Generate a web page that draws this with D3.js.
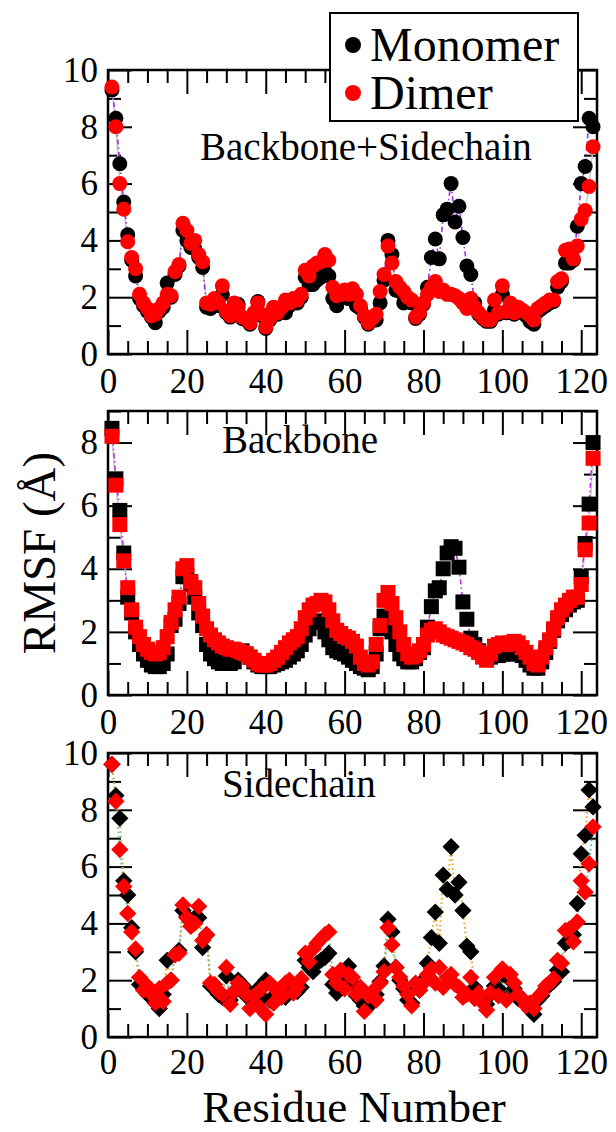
<!DOCTYPE html>
<html><head><meta charset="utf-8">
<script src="https://cdn.jsdelivr.net/npm/d3@7"></script>
<style>
html,body{margin:0;padding:0;background:#fff;}
svg{display:block;}
</style>
</head><body>
<svg id="chart" width="616" height="1132"></svg>
<script>
// ---------------- DATA ----------------
const residues = d3.range(1, 124);
const xTickLabels = [0, 20, 40, 60, 80, 100, 120];
const panelTitles = ["Backbone+Sidechain", "Backbone", "Sidechain"];
const yMaxes = [10, 9, 10];
const seriesNames = ["Monomer", "Dimer"];

const bsMonomer = [9.3,8.3,6.7,5.35,4.2,3.3,2.75,1.95,1.7,1.5,
1.3,1.1,1.5,1.65,2.5,2.0,2.8,3.1,4.35,4.0,
3.75,3.7,3.4,3.05,1.65,1.6,1.8,1.7,2.1,1.45,
1.3,1.7,1.75,1.25,1.2,1.05,1.4,1.85,1.35,0.9,
1.2,1.6,1.4,1.6,1.45,1.7,1.85,1.8,2.0,2.7,
2.45,2.45,2.6,2.7,2.9,2.75,1.95,1.7,2.0,2.1,
1.95,2.2,1.7,1.6,1.3,1.05,1.2,1.2,1.8,2.6,
4.0,3.5,2.25,2.2,1.8,1.9,1.8,1.25,1.4,1.75,
2.35,3.4,4.05,3.35,4.9,5.1,6.0,4.65,5.2,4.1,
3.1,2.8,1.8,1.4,1.25,1.15,1.15,1.55,1.4,2.1,
1.45,1.7,1.4,1.6,1.5,1.35,1.15,1.05,1.5,1.6,
1.7,1.8,1.85,2.35,2.55,3.2,3.2,3.3,4.5,6.0,
6.6,8.3,8.0];
const bsDimer = [9.4,8.0,6.0,5.1,3.95,3.4,3.0,2.1,1.8,1.6,
1.35,1.4,1.6,1.8,2.1,2.05,2.9,3.15,4.6,4.35,
3.9,4.0,3.5,3.25,1.8,1.75,1.95,1.8,2.4,1.5,
1.35,1.8,1.65,1.3,1.25,1.1,1.45,1.8,1.4,0.95,
1.25,1.65,1.45,1.65,1.9,1.8,1.95,1.9,2.1,2.95,
2.75,3.1,3.2,3.25,3.5,3.3,2.35,2.05,2.1,2.25,
2.1,2.3,2.1,1.7,1.35,1.1,1.25,1.4,2.2,2.8,
3.8,3.2,2.55,2.35,2.2,2.0,1.9,1.3,1.45,1.8,
2.1,2.35,2.55,2.2,2.25,2.1,2.1,2.05,1.95,1.8,
1.6,1.95,1.65,1.45,1.3,1.2,1.2,1.9,1.45,2.4,
1.5,1.8,1.45,1.65,1.55,1.45,1.35,1.2,1.6,1.7,
1.8,1.9,1.9,2.55,2.65,3.65,3.7,3.35,3.8,4.75,
5.05,5.9,7.3];
const bbMonomer = [8.45,6.85,5.85,4.5,3.1,2.6,2.0,1.6,1.3,1.1,
0.95,0.9,0.9,1.0,1.3,2.2,2.4,2.9,3.75,3.8,
3.5,3.1,2.6,2.2,1.6,1.3,1.15,1.05,1.0,1.0,
1.0,1.05,1.35,1.4,1.3,1.2,1.05,0.95,0.9,0.9,
0.9,0.95,1.0,1.05,1.1,1.2,1.3,1.4,1.6,1.9,
2.1,2.3,2.35,2.3,2.0,1.75,1.5,1.4,1.35,1.3,
1.2,1.1,1.0,0.9,0.85,0.8,0.9,1.3,2.1,2.5,
2.3,2.0,1.6,1.3,1.15,1.05,1.05,1.15,1.35,1.5,
2.15,2.8,3.3,3.4,4.0,4.5,4.7,4.65,4.05,2.95,
2.4,1.8,1.6,1.4,1.3,1.2,1.2,1.25,1.25,1.3,
1.3,1.3,1.35,1.35,1.25,1.1,0.95,0.85,0.85,1.05,
1.35,1.7,2.05,2.35,2.55,2.7,2.85,2.95,3.0,3.75,
4.8,6.05,8.0];
const bbDimer = [8.2,6.65,5.4,4.25,3.4,2.7,2.15,1.85,1.6,1.45,
1.35,1.3,1.35,1.5,1.85,2.3,2.7,3.1,4.0,4.1,
3.6,3.4,2.9,2.5,2.1,1.9,1.75,1.65,1.55,1.5,
1.45,1.45,1.4,1.35,1.3,1.2,1.1,1.0,0.95,0.95,
1.0,1.1,1.2,1.35,1.5,1.65,1.75,1.85,2.1,2.45,
2.7,2.85,2.9,3.0,2.95,2.7,2.35,2.05,1.95,1.85,
1.8,1.7,1.55,1.2,1.0,0.95,1.05,1.6,2.2,3.0,
3.25,2.9,2.45,2.0,1.6,1.3,1.2,1.25,1.4,1.6,
1.9,2.05,2.1,2.0,1.9,1.85,1.8,1.75,1.7,1.65,
1.6,1.5,1.45,1.35,1.2,1.1,1.3,1.55,1.6,1.65,
1.6,1.65,1.7,1.65,1.5,1.35,1.2,1.0,0.95,1.2,
1.5,1.75,2.1,2.45,2.7,2.85,3.0,3.1,3.1,3.5,
4.6,5.45,7.5];
const scMonomer = [9.6,8.5,7.7,5.5,5.0,3.85,3.0,1.85,1.7,1.5,
1.4,1.2,1.0,1.5,2.7,2.0,2.9,3.05,4.45,4.25,
4.05,4.2,4.2,3.15,3.6,1.8,1.7,1.5,1.4,2.15,
1.3,1.6,2.0,1.85,1.45,1.55,1.3,1.7,1.4,2.0,
1.3,1.2,1.5,1.45,1.4,1.7,1.8,1.6,1.75,2.7,
2.45,2.3,2.6,2.7,2.8,2.95,1.85,1.55,2.2,1.85,
2.5,1.9,1.45,1.3,1.1,1.3,1.2,1.5,1.95,2.5,
4.15,3.7,2.45,2.0,1.7,1.3,1.2,1.8,1.65,2.0,
2.6,3.5,4.4,3.3,5.7,5.2,6.7,5.0,5.45,4.45,
3.2,3.0,1.75,1.4,1.3,1.15,1.5,1.8,1.7,2.2,
1.35,2.0,1.7,1.35,1.3,1.2,0.95,0.8,1.3,1.45,
1.7,1.85,1.95,2.35,2.3,3.3,3.4,3.6,4.7,6.45,
7.1,8.7,8.1];
const scDimer = [9.6,8.3,6.6,5.3,4.35,3.7,3.1,2.1,1.65,1.8,
1.5,1.2,1.7,1.25,1.9,2.0,2.9,2.95,4.65,4.2,
3.9,4.0,4.6,3.4,3.6,1.9,1.85,1.6,1.5,2.45,
1.15,1.6,1.9,1.8,1.5,1.0,1.45,1.1,1.7,0.8,
1.9,1.2,1.6,1.4,1.9,2.0,1.55,1.75,2.05,2.95,
2.65,3.1,3.3,3.45,3.6,3.7,2.2,1.9,2.35,1.7,
2.2,2.1,1.5,1.75,0.9,1.45,1.6,1.3,1.9,2.3,
3.85,3.25,2.45,2.1,1.8,1.5,1.1,1.9,1.65,1.9,
2.2,2.4,1.9,2.45,1.75,2.1,2.2,1.85,1.75,1.4,
1.5,2.1,1.35,1.55,1.2,0.95,1.55,2.1,1.45,2.4,
1.3,2.2,1.9,1.5,1.35,1.1,1.2,1.0,1.4,1.55,
1.8,1.9,2.05,2.7,2.6,3.75,3.8,3.35,4.05,5.5,
5.1,6.1,7.4];

// ---------------- LAYOUT ----------------
const FONT = '"Liberation Serif"';
const svg = d3.select("#chart");
const x = d3.scaleLinear().domain([0, 124]).range([108, 597]);

function serif(sel, size) {
  return sel.style("font-family", FONT).style("font-size", size + "px").attr("fill", "#000");
}

const panels = [
  {title: panelTitles[0], top: 70, bottom: 354, ymax: yMaxes[0], mono: bsMonomer, dimer: bsDimer,
   shape: "circle", monoLine: {stroke: "#9a30e8", dash: "5,3,1.5,3", w: 1.6}, dimerLine: {stroke: "#c8c8c8", dash: null, w: 1.5},
   titleX: 200, titleY: 160},
  {title: panelTitles[1], top: 411, bottom: 695, ymax: yMaxes[1], mono: bbMonomer, dimer: bbDimer,
   shape: "square", monoLine: {stroke: "#c030e8", dash: "5,3,1.5,3", w: 1.6}, dimerLine: {stroke: "#c8c8c8", dash: null, w: 1.5},
   titleX: 222, titleY: 453},
  {title: panelTitles[2], top: 753, bottom: 1037, ymax: yMaxes[2], mono: scMonomer, dimer: scDimer,
   shape: "diamond", monoLine: {stroke: "#f0a020", dash: "1.5,3", w: 2}, dimerLine: {stroke: "#30d0d0", dash: "1.5,3", w: 2},
   titleX: 222, titleY: 797}
];

panels.forEach((p, pi) => {
  const y = d3.scaleLinear().domain([0, p.ymax]).range([p.bottom, p.top]);
  const g = svg.append("g");
  const majY = d3.range(0, p.ymax + 0.01, 2);
  const minY = d3.range(1, p.ymax + 0.01, 2);
  const majX = xTickLabels;
  const minX = d3.range(5, 124, 5).filter(v => v % 20 !== 0);
  const pad = pi === 2 ? 12 : 14;

  function styleAxis(sel) {
    sel.attr("font-family", null).attr("font-size", null);
    sel.select(".domain").remove();
    sel.selectAll(".tick line").attr("stroke", "#000").attr("stroke-width", 2);
    serif(sel.selectAll("text"), 35);
  }
  g.append("g").attr("transform", `translate(0,${p.bottom})`)
    .call(d3.axisBottom(x).tickValues(majX).tickSizeInner(-24).tickSizeOuter(0).tickPadding(pad).tickFormat(d3.format("d"))).call(styleAxis);
  g.append("g").attr("transform", `translate(0,${p.bottom})`)
    .call(d3.axisBottom(x).tickValues(minX).tickSizeInner(-13).tickSizeOuter(0).tickFormat("")).call(styleAxis);
  g.append("g").attr("transform", `translate(0,${p.top})`)
    .call(d3.axisTop(x).tickValues(majX).tickSizeInner(-24).tickSizeOuter(0).tickFormat("")).call(styleAxis);
  g.append("g").attr("transform", `translate(0,${p.top})`)
    .call(d3.axisTop(x).tickValues(minX).tickSizeInner(-13).tickSizeOuter(0).tickFormat("")).call(styleAxis);
  g.append("g").attr("transform", `translate(${x.range()[0]},0)`)
    .call(d3.axisLeft(y).tickValues(majY).tickSizeInner(-24).tickSizeOuter(0).tickPadding(10).tickFormat(d3.format("d"))).call(styleAxis);
  g.append("g").attr("transform", `translate(${x.range()[0]},0)`)
    .call(d3.axisLeft(y).tickValues(minY).tickSizeInner(-13).tickSizeOuter(0).tickFormat("")).call(styleAxis);
  g.append("g").attr("transform", `translate(${x.range()[1]},0)`)
    .call(d3.axisRight(y).tickValues(majY).tickSizeInner(-24).tickSizeOuter(0).tickFormat("")).call(styleAxis);
  g.append("g").attr("transform", `translate(${x.range()[1]},0)`)
    .call(d3.axisRight(y).tickValues(minY).tickSizeInner(-13).tickSizeOuter(0).tickFormat("")).call(styleAxis);

  g.append("rect").attr("x", x.range()[0]).attr("y", p.top)
    .attr("width", x.range()[1] - x.range()[0]).attr("height", p.bottom - p.top)
    .attr("fill", "none").attr("stroke", "#000").attr("stroke-width", 2.5);

  serif(g.append("text").attr("x", p.titleX).attr("y", p.titleY).text(p.title), 39);

  const mono = residues.map((r, i) => ({r, v: p.mono[i]}));
  const dim = residues.map((r, i) => ({r, v: p.dimer[i]}));
  const line = d3.line().x(d => x(d.r)).y(d => y(d.v));

  g.append("path").datum(dim).attr("d", line).attr("fill", "none")
    .attr("stroke", p.dimerLine.stroke).attr("stroke-width", p.dimerLine.w)
    .attr("stroke-dasharray", p.dimerLine.dash);
  g.append("path").datum(mono).attr("d", line).attr("fill", "none")
    .attr("stroke", p.monoLine.stroke).attr("stroke-width", p.monoLine.w)
    .attr("stroke-dasharray", p.monoLine.dash);

  function drawMarkers(data, color) {
    const sel = g.append("g");
    if (p.shape === "circle") {
      sel.selectAll("circle").data(data).join("circle")
        .attr("cx", d => x(d.r)).attr("cy", d => y(d.v)).attr("r", 7.5).attr("fill", color);
    } else {
      const sym = d3.symbol().type(d3.symbolSquare).size(p.shape === "square" ? 225 : 150);
      sel.selectAll("path").data(data).join("path")
        .attr("d", sym)
        .attr("transform", d => `translate(${x(d.r)},${y(d.v)})` + (p.shape === "diamond" ? " rotate(45)" : ""))
        .attr("fill", color);
    }
  }
  drawMarkers(mono, "#000");
  drawMarkers(dim, "#ff0000");
});

serif(svg.append("text").attr("transform", "translate(55,553) rotate(-90)")
  .attr("text-anchor", "middle").text("RMSF (Å)"), 47);
serif(svg.append("text").attr("x", 354).attr("y", 1122)
  .attr("text-anchor", "middle").text("Residue Number"), 45);

const leg = svg.append("g");
leg.append("rect").attr("x", 330).attr("y", 13).attr("width", 248).attr("height", 108)
  .attr("fill", "#fff").attr("stroke", "#000").attr("stroke-width", 2);
const legColors = ["#000", "#ff0000"];
seriesNames.forEach((name, i) => {
  const cy = 45 + i * 48;
  leg.append("circle").attr("cx", 353).attr("cy", cy).attr("r", 8).attr("fill", legColors[i]);
  serif(leg.append("text").attr("x", 370).attr("y", cy + 16).text(name), 48);
});
</script>
</body></html>
